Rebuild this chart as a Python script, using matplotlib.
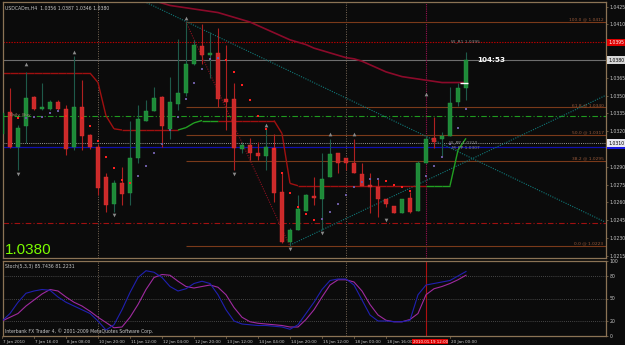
import matplotlib
matplotlib.use('Agg')
import matplotlib.pyplot as plt
from matplotlib.collections import LineCollection
from matplotlib.patches import Rectangle

# ---------------- data ----------------
opens = [1.0318, 1.0336, 1.0307, 1.0324, 1.0349, 1.0339, 1.0339, 1.0345, 1.0339, 1.0307,
         1.0340, 1.0317, 1.0307, 1.0281, 1.0259, 1.0276, 1.0268, 1.0297, 1.0329, 1.0337,
         1.0349, 1.0322, 1.0343, 1.0352, 1.0377, 1.0392, 1.0384, 1.0386, 1.0347, 1.0347,
         1.0305, 1.0308, 1.0302, 1.0299, 1.0306, 1.0269, 1.0227, 1.0237, 1.0253, 1.0265,
         1.0263, 1.0281, 1.0302, 1.0297, 1.0293, 1.0284, 1.0275, 1.0273, 1.0263, 1.0257,
         1.0251, 1.0264, 1.0253, 1.0293, 1.0314, 1.0313, 1.0316, 1.0345, 1.0356]
highs = [1.0338, 1.0356, 1.0325, 1.0370, 1.0350, 1.0361, 1.0346, 1.0346, 1.0342, 1.0383,
         1.0363, 1.0318, 1.0309, 1.0285, 1.0279, 1.0290, 1.0329, 1.0342, 1.0346, 1.0357,
         1.0350, 1.0366, 1.0398, 1.0412, 1.0397, 1.0410, 1.0404, 1.0407, 1.0393, 1.0361,
         1.0311, 1.0314, 1.0311, 1.0323, 1.0318, 1.0285, 1.0238, 1.0266, 1.0267, 1.0281,
         1.0302, 1.0313, 1.0302, 1.0297, 1.0313, 1.0293, 1.0285, 1.0280, 1.0263, 1.0257,
         1.0263, 1.0269, 1.0295, 1.0316, 1.0332, 1.0319, 1.0357, 1.0361, 1.0387]
lows = [1.0317, 1.0306, 1.0287, 1.0310, 1.0338, 1.0338, 1.0338, 1.0338, 1.0300, 1.0304,
        1.0304, 1.0305, 1.0266, 1.0252, 1.0252, 1.0258, 1.0258, 1.0293, 1.0329, 1.0337,
        1.0307, 1.0313, 1.0338, 1.0350, 1.0376, 1.0377, 1.0365, 1.0340, 1.0321, 1.0287,
        1.0302, 1.0296, 1.0296, 1.0287, 1.0260, 1.0226, 1.0223, 1.0237, 1.0253, 1.0258,
        1.0237, 1.0281, 1.0285, 1.0287, 1.0285, 1.0274, 1.0251, 1.0248, 1.0256, 1.0251,
        1.0251, 1.0251, 1.0253, 1.0293, 1.0306, 1.0298, 1.0316, 1.0341, 1.0346]
closes = [1.0335, 1.0307, 1.0323, 1.0348, 1.0339, 1.0340, 1.0345, 1.0339, 1.0305, 1.0340,
          1.0316, 1.0307, 1.0272, 1.0258, 1.0276, 1.0267, 1.0297, 1.0330, 1.0337, 1.0348,
          1.0324, 1.0345, 1.0352, 1.0377, 1.0393, 1.0384, 1.0386, 1.0347, 1.0345, 1.0306,
          1.0308, 1.0302, 1.0299, 1.0307, 1.0268, 1.0227, 1.0237, 1.0254, 1.0266, 1.0264,
          1.0280, 1.0301, 1.0293, 1.0293, 1.0285, 1.0274, 1.0273, 1.0263, 1.0259, 1.0251,
          1.0263, 1.0252, 1.0293, 1.0313, 1.0311, 1.0316, 1.0344, 1.0356, 1.0380]

ma_start = 19
ma_vals = [1.0430, 1.0428, 1.0426, 1.0425, 1.0424, 1.0423, 1.0422, 1.0421, 1.0420, 1.0418,
           1.0416, 1.0414, 1.0412, 1.0409, 1.0406, 1.0403, 1.0400, 1.0397, 1.0395, 1.0393,
           1.0390, 1.0388, 1.0386, 1.0384, 1.0382, 1.0381, 1.0379, 1.0376, 1.0373, 1.0370,
           1.0368, 1.0366, 1.0365, 1.0364, 1.0363, 1.0362, 1.0361, 1.0361, 1.0361, 1.0361]

trail = [1.0369, 1.0369, 1.0369, 1.0369, 1.0369, 1.0369, 1.0369, 1.0369, 1.0369, 1.0369,
         1.0369, 1.0369, 1.0361, 1.0333, 1.0322, 1.0321, 1.0321, 1.0321, 1.0321, 1.0321,
         1.0321, 1.0321, 1.0321, 1.0323, 1.0327, 1.0329, 1.0329, 1.0329, 1.0329, 1.0329,
         1.0329, 1.0329, 1.0329, 1.0329, 1.0329, 1.0318, 1.0276, 1.0274, 1.0274, 1.0274,
         1.0274, 1.0274, 1.0274, 1.0274, 1.0274, 1.0274, 1.0274, 1.0274, 1.0274, 1.0274,
         1.0274, 1.0274, 1.0274, 1.0274, 1.0274, 1.0274, 1.0274, 1.0304, 1.0314]
trail_dir = [-1, -1, -1, -1, -1, -1, -1, -1, -1, -1,
             -1, -1, -1, -1, -1, -1, -1, -1, -1, -1,
             -1, -1, 1, 1, 1, 1, 1, -1, -1, -1,
             -1, -1, -1, -1, -1, -1, -1, -1, -1, -1,
             -1, -1, -1, -1, -1, -1, -1, -1, -1, -1,
             -1, -1, -1, 1, 1, 1, 1, 1, 1]

sar_idx = [0, 2, 8, 10, 11, 12, 13, 14, 15, 16, 28, 29, 30, 31, 32, 33, 34, 35, 36, 37, 38, 39, 48, 49, 50, 51]
sar_val = [1.0345, 1.0331, 1.0333, 1.0331, 1.0324, 1.0312, 1.0298, 1.0289, 1.0279, 1.0276,
           1.0380, 1.0370, 1.0359, 1.0346, 1.0333, 1.0322, 1.0305, 1.0285, 1.0268, 1.0256,
           1.0250, 1.0245, 1.0278, 1.0275, 1.0273, 1.0270]

pur_idx = [3, 4, 5, 6, 7, 17, 18, 19, 20, 21, 22, 23, 24, 25, 26, 27, 40, 41, 42, 43, 44, 45, 46, 47,
           53, 54, 55, 56, 57, 58]
pur_val = [1.0331, 1.0332, 1.0332, 1.0335, 1.0337, 1.0282, 1.0291, 1.0302, 1.0309, 1.0321,
           1.0332, 1.0347, 1.0361, 1.0372, 1.0381, 1.0382, 1.0246, 1.0252, 1.0259, 1.0266,
           1.0273, 1.0277, 1.0280, 1.0280, 1.0282, 1.0291, 1.0298, 1.0309, 1.0323, 1.0339]

frac_up_idx = [3, 9, 23, 33, 41, 44, 53]
frac_up_val = [1.0377, 1.0387, 1.0415, 1.0325, 1.0318, 1.0318, 1.0351]
frac_dn_idx = [2, 14, 29, 36, 40, 48]
frac_dn_val = [1.0284, 1.0249, 1.0284, 1.0221, 1.0234, 1.0245]

fib_levels = [100.0, 61.8, 50.0, 38.2, 0.0]
fib_prices = [1.0412, 1.0340, 1.0317, 1.0295, 1.0223]
fib_start = 23
fib_end_bar = 36

trend1_bars = [17.25, 75.4]
trend1_prices = [1.0431, 1.02434]
trend2_bars = [36.0, 75.4]
trend2_prices = [1.0224, 1.0350]

stoch_k = [20, 30, 45, 57, 60, 62, 61, 52, 45, 40, 35, 30, 20, 8, 15, 35, 58, 78, 87, 85,
           78, 66, 60, 63, 70, 73, 70, 55, 35, 20, 16, 15, 14, 14, 13, 12, 9, 15, 30, 45,
           62, 74, 76, 76, 68, 48, 28, 20, 20, 19, 19, 21, 55, 68, 70, 72, 74, 80, 86]
stoch_d = [20, 25, 30, 40, 48, 56, 62, 60, 52, 45, 40, 33, 25, 18, 11, 12, 25, 42, 62, 78,
           82, 81, 73, 66, 64, 66, 68, 65, 55, 38, 25, 19, 17, 16, 15, 14, 12, 12, 22, 35,
           52, 68, 75, 75, 72, 60, 42, 28, 21, 19, 19, 22, 30, 55, 63, 66, 70, 75, 81]

price_ticks = [1.0215, 1.0230, 1.0245, 1.0260, 1.0275, 1.0290, 1.0320, 1.0335,
               1.0350, 1.0365, 1.0380, 1.0395, 1.0410, 1.0425]
time_tick_bars = [0, 4, 8, 12, 16, 20, 24, 28, 32, 36, 40, 44, 48, 56]
time_tick_labels = ["7 Jan 2010", "7 Jan 16:00", "8 Jan 08:00", "10 Jan 20:00", "11 Jan 12:00",
                    "12 Jan 04:00", "12 Jan 20:00", "13 Jan 12:00", "14 Jan 04:00", "14 Jan 20:00",
                    "15 Jan 12:00", "18 Jan 00:00", "18 Jan 16:00", "20 Jan 00:00"]
cursor_bar = 53
cursor_label = "2010.01.19 12:00"
week_sep_bars = [12, 43]

level_r1 = 1.0395
level_bid = 1.0380
level_green = 1.0333
level_pp = 1.0310
level_blue = 1.0307
level_red_dd = 1.0243

# ---------------- style ----------------
BG = '#0b0b0b'
TAN = '#8b7355'
TXT = '#c8c8c8'
W, H = 625, 345

fig = plt.figure(figsize=(W / 100, H / 100), dpi=100, facecolor=BG)


def rect(l, t, r, b):
    return [l / W, 1 - b / H, (r - l) / W, (b - t) / H]


ax = fig.add_axes(rect(3, 2, 606, 258), facecolor=BG)
ax2 = fig.add_axes(rect(3, 261, 606, 336), facecolor=BG)

xlim = (0.125, 75.5)
for a in (ax, ax2):
    a.set_xlim(*xlim)
    for s in a.spines.values():
        s.set_color(TAN)
        s.set_linewidth(0.9)
    a.set_xticks([])

ax.set_ylim(1.02131, 1.04289)
ax2.set_ylim(0, 100)

# horizontal levels
ax.axhline(level_bid, color='#6e6e6e', lw=0.8, zorder=1)
ax.axhline(level_r1, color='#c00000', lw=0.8, ls=(0, (1.2, 1.2)), zorder=1)
ax.axhline(level_green, color='#1f9a1f', lw=0.8, ls=(0, (5, 2, 1, 2)), zorder=1)
ax.axhline(level_pp, color='#9a9a9a', lw=0.7, ls=(0, (1, 1.2)), zorder=1)
ax.axhline(level_blue, color='#1010b0', lw=0.9, zorder=1)
ax.axhline(level_red_dd, color='#a01010', lw=0.8, ls=(0, (5, 2, 1, 2)), zorder=1)

# separators
for b in week_sep_bars:
    ax.axvline(b, color='#7a6a58', lw=0.7, ls=(0, (1, 1.5)), zorder=1)
    ax2.axvline(b, color='#7a6a58', lw=0.7, ls=(0, (1, 1.5)), zorder=1)
ax.axvline(cursor_bar, color='#9a1050', lw=0.8, ls=(0, (1, 1)), zorder=1)
ax2.axvline(cursor_bar, color='#b01010', lw=0.8, zorder=1)

# fibonacci
for lv, p in zip(fib_levels, fib_prices):
    ax.hlines(p, fib_start, xlim[1], color='#7a3a1a', lw=0.8, zorder=1)
    ax.text(xlim[1] - 0.3, p + 0.00004, f"{lv:.1f} @ {p:.4f}", color='#9a5a3a',
            fontsize=3.2, ha='right', va='bottom', zorder=2)
ax.plot([fib_start, fib_end_bar], [fib_prices[0], fib_prices[-1]], color='#8b1020',
        lw=0.8, ls=(0, (1, 1.2)), zorder=1)

# trend lines
ax.plot(trend1_bars, trend1_prices, color='#107878', lw=0.8, ls=(0, (1, 1.2)), zorder=1)
ax.plot(trend2_bars, trend2_prices, color='#107878', lw=0.8, ls=(0, (1, 1.2)), zorder=1)

# moving average
ma_x = list(range(ma_start, ma_start + len(ma_vals)))
ax.plot(ma_x, ma_vals, color='#8b0a2a', lw=1.2, zorder=2)
ax.hlines(ma_vals[-1], ma_x[-1] - 0.8, ma_x[-1] + 0.3, color='white', lw=1.0, zorder=6)

# trailing line
segs, cols = [], []
for i in range(len(trail) - 1):
    segs.append([(i, trail[i]), (i + 1, trail[i + 1])])
    cols.append('#22a022' if trail_dir[i] > 0 else '#a01010')
ax.add_collection(LineCollection(segs, colors=cols, linewidths=1.0, zorder=2))

# candles
n = len(opens)
for i in range(n):
    o, h, l, c = opens[i], highs[i], lows[i], closes[i]
    up = c >= o
    wick = '#1e5a4a' if up else '#b02020'
    body = '#1e8a38' if up else '#cc2a2a'
    ax.vlines(i, l, h, color=wick, lw=0.8, zorder=3)
    bot = min(o, c)
    ht = max(abs(c - o), 0.00005)
    ax.bar(i, ht, width=0.62, bottom=bot, color=body,
           edgecolor='#2aa048' if up else '#e03030', linewidth=0.3, zorder=4)

# dots and fractals
ax.scatter(sar_idx, sar_val, s=2.5, marker='s', color='#ff2020', zorder=5, linewidths=0)
ax.scatter(pur_idx, pur_val, s=2.5, marker='s', color='#6a5aa0', zorder=5, linewidths=0)
ax.scatter(frac_up_idx, frac_up_val, s=7, marker='^', color='#8a8a8a', zorder=5, linewidths=0)
ax.scatter(frac_dn_idx, frac_dn_val, s=7, marker='v', color='#8a8a8a', zorder=5, linewidths=0)

# right price axis
ax.yaxis.tick_right()
ax.set_yticks(price_ticks)
ax.set_yticklabels([f"{p:.4f}" for p in price_ticks])
ax.tick_params(axis='y', colors=TAN, labelcolor=TXT, labelsize=3.3, length=1.5, width=0.5, pad=1)

ytr = ax.get_yaxis_transform()


def box(price, label, fc, tc, z=10):
    ax.text(1.0035, price, label, transform=ytr, ha='left', va='center', fontsize=3.3,
            color=tc, clip_on=False, zorder=z,
            bbox=dict(boxstyle='square,pad=0.25', fc=fc, ec='none'))


box(level_r1, f"{level_r1:.4f}", '#e00000', 'white')
box(level_bid, f"{level_bid:.4f}", '#d8d8d8', 'black')
# blue marker strip for the blue level (its label is hidden under the white box)
ax.add_patch(Rectangle((1.002, level_blue - 0.00016), 0.033, 0.00026, transform=ytr,
                       facecolor='#1818e0', edgecolor='none', clip_on=False, zorder=9))
box(level_pp, f"{level_pp:.4f}", '#e8e8f0', 'black', z=11)

# texts in main chart
atr = ax.transAxes
ax.text(0.004, 0.985, "USDCADm,H4  1.0356 1.0387 1.0346 1.0380", transform=atr,
        color=TXT, fontsize=3.3, ha='left', va='top', zorder=10)
ax.text(0.003, 0.005, f"{closes[-1]:.4f}", transform=atr, color='#7cfc00',
        fontsize=11, family='Liberation Sans', ha='left', va='bottom', zorder=10)
ax.text(n + 0.4, closes[-1], "104:53", color='white', fontsize=5.2, fontweight='bold',
        ha='left', va='center', zorder=10)
ax.text(56.1, level_r1 - 0.00006, "W_R1 1.0395", color='#8a8a8a', fontsize=3.2,
        ha='left', va='bottom', zorder=6)
ax.text(55.9, level_pp + 0.00002, "W_PP 1.0310", color='#8a8a8a', fontsize=3.2,
        ha='left', va='center', zorder=6)
ax.text(56.3, level_blue - 0.00008, "M_PP 1.0307", color='#8a8a8a', fontsize=3.2,
        ha='left', va='center', zorder=6)
ax.text(0.9, level_green + 0.00003, "Daily_Buy", color='#a08a70', fontsize=3.2,
        ha='left', va='center', zorder=6)

# stochastic panel
for lv in (20, 50, 80):
    ax2.axhline(lv, color='#5a5a5a', lw=0.6, ls=(0, (1, 1.5)), zorder=1)
xs = list(range(n))
ax2.plot(xs, stoch_d, color='#a02aa0', lw=0.8, zorder=3)
ax2.plot(xs, stoch_k, color='#2020b0', lw=0.8, zorder=3)
ax2.yaxis.tick_right()
ax2.set_yticks([0, 20, 50, 80, 100])
ax2.set_yticklabels(['0', '20', '50', '80', '100'])
ax2.tick_params(axis='y', colors=TAN, labelcolor=TXT, labelsize=3.3, length=1.5, width=0.5, pad=1)
a2t = ax2.transAxes
ax2.text(0.004, 0.96, f"Stoch(5,3,3) {85.7436:.4f} {81.2231:.4f}", transform=a2t,
         color=TXT, fontsize=3.3, ha='left', va='top', zorder=10)
ax2.text(0.004, 0.03, "Interbank FX Trader 4, \u00a9 2001-2009 MetaQuotes Software Corp.",
         transform=a2t, color=TXT, fontsize=3.3, ha='left', va='bottom', zorder=10)

# time axis labels
xtr = ax2.get_xaxis_transform()
for b, lab in zip(time_tick_bars, time_tick_labels):
    ax2.plot([b, b], [0, -0.03], transform=xtr, color=TAN, lw=0.5, clip_on=False)
    ax2.text(b + 0.1, -0.05, lab, transform=xtr, color=TXT, fontsize=3.0,
             ha='left', va='top', clip_on=False)
ax2.text(cursor_bar + 0.55, -0.05, cursor_label, transform=xtr, color='white', fontsize=2.9,
         ha='center', va='top', clip_on=False, zorder=10,
         bbox=dict(boxstyle='square,pad=0.12', fc='#e00000', ec='none'))

fig.savefig('out.png', dpi=100, facecolor=BG)
